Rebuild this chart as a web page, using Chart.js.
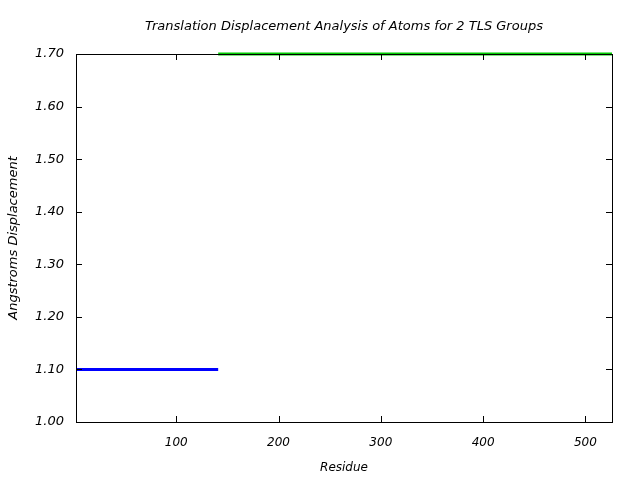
<!DOCTYPE html>
<html>
<head>
<meta charset="utf-8">
<script src="https://cdn.jsdelivr.net/npm/chart.js@4/dist/chart.umd.min.js"></script>
<style>
  html, body { margin: 0; padding: 0; background: #fff; }
  #wrap { width: 640px; height: 480px; }
</style>
</head>
<body>
<div id="wrap"><canvas id="tlsChart" width="640" height="480"></canvas></div>
<script>
const title = 'Translation Displacement Analysis of Atoms for 2 TLS Groups';
const xTicks = [100, 200, 300, 400, 500];
const yTicks = [1.0, 1.1, 1.2, 1.3, 1.4, 1.5, 1.6, 1.7];

// residue ranges of each TLS group and its displacement
const group1Residues = [2, 141];
const group1Disp = [1.10, 1.10];
const group2Residues = [141, 526];
const group2Disp = [1.70, 1.70];

const font = { family: 'DejaVu Sans', style: 'italic', size: 12 };
const yFont = { family: 'DejaVu Sans', style: 'italic', size: 13 };

function points(xs, ys) {
  return xs.map((x, i) => ({ x, y: ys[i] }));
}

// frame, inward ticks and title
const framePlugin = {
  id: 'frame',
  afterDatasetsDraw(chart) {
    const { ctx, chartArea: a, scales } = chart;
    ctx.save();
    ctx.strokeStyle = '#000';
    ctx.lineWidth = 1;
    ctx.beginPath();
    xTicks.forEach(v => {
      const px = Math.round(scales.x.getPixelForValue(v)) + 0.5;
      ctx.moveTo(px, a.bottom); ctx.lineTo(px, a.bottom - 6);
      ctx.moveTo(px, a.top); ctx.lineTo(px, a.top + 6);
    });
    yTicks.forEach(v => {
      const py = Math.round(scales.y.getPixelForValue(v)) + 0.5;
      ctx.moveTo(a.left, py); ctx.lineTo(a.left + 6, py);
      ctx.moveTo(a.right, py); ctx.lineTo(a.right - 6, py);
    });
    ctx.stroke();
    ctx.strokeRect(Math.round(a.left) + 0.5, Math.round(a.top) + 0.5,
      Math.round(a.right - a.left), Math.round(a.bottom - a.top));
    ctx.fillStyle = '#000';
    ctx.font = 'italic 13px "DejaVu Sans"';
    ctx.textAlign = 'center';
    ctx.textBaseline = 'middle';
    ctx.fillText(title, (a.left + a.right) / 2, 27);
    ctx.restore();
  }
};

new Chart(document.getElementById('tlsChart'), {
  type: 'line',
  data: {
    datasets: [
      {
        label: 'Group 1',
        data: points(group1Residues, group1Disp),
        borderColor: '#0000ff',
        borderWidth: 3,
        pointRadius: 0
      },
      {
        label: 'Group 2',
        data: points(group2Residues, group2Disp),
        borderColor: '#00cc00',
        borderWidth: 3,
        pointRadius: 0
      }
    ]
  },
  options: {
    responsive: false,
    animation: false,
    clip: false,
    layout: { padding: { top: 54, right: 28, left: 0, bottom: 0 } },
    plugins: { legend: { display: false }, tooltip: { enabled: false } },
    scales: {
      x: {
        type: 'linear',
        min: 2,
        max: 526,
        afterBuildTicks: s => { s.ticks = xTicks.map(v => ({ value: v })); },
        afterFit: s => { s.height = 58; },
        grid: { display: false },
        border: { display: false },
        ticks: { color: '#000', font, padding: 6, maxRotation: 0 },
        title: { display: true, text: 'Residue', color: '#000', font, padding: { top: 4, bottom: 5 } }
      },
      y: {
        min: 1.0,
        max: 1.7,
        afterBuildTicks: s => { s.ticks = yTicks.map(v => ({ value: v })); },
        afterFit: s => { s.width = 76; },
        grid: { display: false },
        border: { display: false },
        ticks: { color: '#000', font: yFont, padding: 4, callback: v => v.toFixed(2) },
        title: { display: true, text: 'Angstroms Displacement', color: '#000', font: yFont, padding: { top: 6, bottom: 4 } }
      }
    }
  },
  plugins: [framePlugin]
});
</script>
</body>
</html>
